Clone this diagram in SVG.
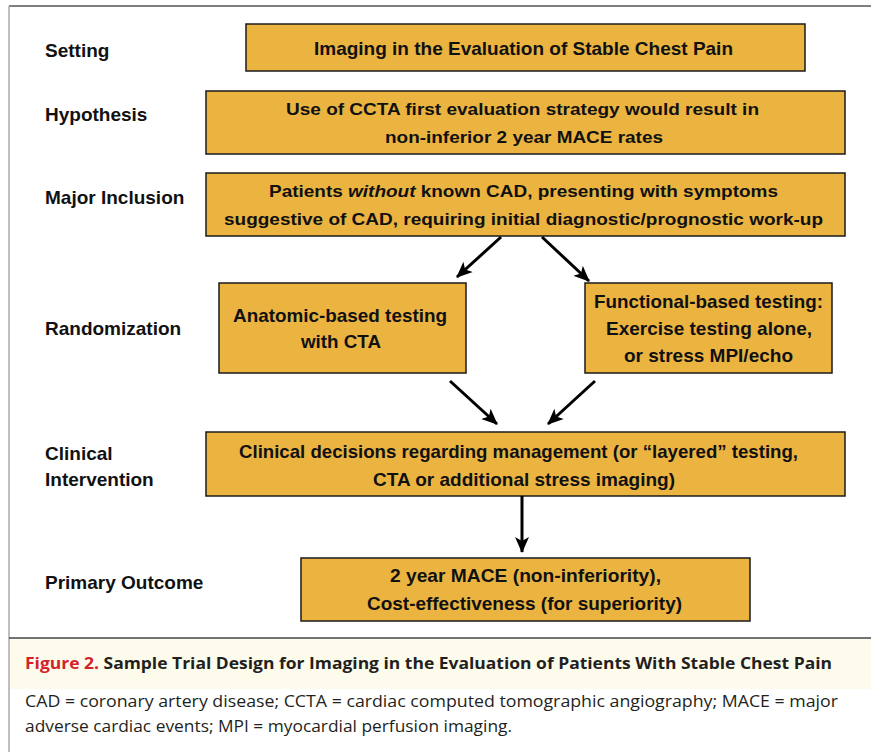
<svg xmlns="http://www.w3.org/2000/svg" width="871" height="752" viewBox="0 0 871 752">
<style>
.box{fill:#ebb441;stroke:#1a1a1a;stroke-width:1.5}
.bt{font-family:"Liberation Sans",Arial,sans-serif;font-weight:bold;font-size:17px;fill:#111;text-anchor:start}
.nt{font-size:18.5px}
.lb{font-family:"Liberation Sans",Arial,sans-serif;font-weight:bold;font-size:19px;fill:#111}
.cap{font-family:"Open Sans","Liberation Sans",sans-serif;font-size:16px;fill:#231f20}
.arr{stroke:#000;stroke-width:3;fill:none;marker-end:url(#ah)}
</style>
<defs>
<marker id="ah" markerUnits="userSpaceOnUse" markerWidth="16" markerHeight="16" refX="15" refY="8" orient="auto">
<path d="M0,1 L16,8 L0,15 L4,8 z" fill="#000"/>
</marker>
</defs>
<rect width="871" height="752" fill="#fff"/>
<rect x="9" y="639" width="862" height="50" fill="#fdfbec"/>
<line x1="9" y1="6" x2="871" y2="6" stroke="#555" stroke-width="1.5"/>
<line x1="9" y1="6" x2="9" y2="752" stroke="#aaa" stroke-width="1.5"/>
<line x1="9" y1="638" x2="871" y2="638" stroke="#444" stroke-width="1.5"/>

<g id="labels">
<text class="lb" x="45" y="57">Setting</text>
<text class="lb" x="45" y="121">Hypothesis</text>
<text class="lb" x="45" y="204">Major Inclusion</text>
<text class="lb" x="45" y="335">Randomization</text>
<text class="lb" x="45" y="460">Clinical</text>
<text class="lb" x="45" y="486">Intervention</text>
<text class="lb" x="45" y="589">Primary Outcome</text>
</g>

<g id="setting">
<rect class="box" x="246" y="24" width="559" height="47"/>
<text class="bt nt" x="314" y="55" textLength="419" lengthAdjust="spacingAndGlyphs">Imaging in the Evaluation of Stable Chest Pain</text>
</g>
<g id="hypothesis">
<rect class="box" x="206" y="91" width="639" height="63"/>
<text class="bt" x="286" y="115" textLength="473" lengthAdjust="spacingAndGlyphs">Use of CCTA first evaluation strategy would result in</text>
<text class="bt" x="385" y="143" textLength="278" lengthAdjust="spacingAndGlyphs">non-inferior 2 year MACE rates</text>
</g>
<g id="inclusion">
<rect class="box" x="206" y="173" width="639" height="63"/>
<text class="bt" x="269" y="197" textLength="509" lengthAdjust="spacingAndGlyphs">Patients <tspan font-style="italic">without</tspan> known CAD, presenting with symptoms</text>
<text class="bt" x="224" y="225" textLength="599" lengthAdjust="spacingAndGlyphs">suggestive of CAD, requiring initial diagnostic/prognostic work-up</text>
</g>
<g id="anatomic">
<rect class="box" x="219" y="283" width="247" height="90"/>
<text class="bt nt" x="233" y="322" textLength="214" lengthAdjust="spacingAndGlyphs">Anatomic-based testing</text>
<text class="bt nt" x="301" y="348" textLength="80" lengthAdjust="spacingAndGlyphs">with CTA</text>
</g>
<g id="functional">
<rect class="box" x="585" y="283" width="247" height="90"/>
<text class="bt nt" x="594" y="308" textLength="229" lengthAdjust="spacingAndGlyphs">Functional-based testing:</text>
<text class="bt nt" x="606" y="335" textLength="206" lengthAdjust="spacingAndGlyphs">Exercise testing alone,</text>
<text class="bt nt" x="624" y="362" textLength="169" lengthAdjust="spacingAndGlyphs">or stress MPI/echo</text>
</g>
<g id="clinical">
<rect class="box" x="206" y="432" width="639" height="64"/>
<text class="bt nt" x="239" y="458" textLength="559" lengthAdjust="spacingAndGlyphs">Clinical decisions regarding management (or “layered” testing,</text>
<text class="bt nt" x="373" y="486" textLength="302" lengthAdjust="spacingAndGlyphs">CTA or additional stress imaging)</text>
</g>
<g id="outcome">
<rect class="box" x="301" y="558" width="449" height="63"/>
<text class="bt nt" x="390" y="582" textLength="271" lengthAdjust="spacingAndGlyphs">2 year MACE (non-inferiority),</text>
<text class="bt nt" x="367" y="610" textLength="315" lengthAdjust="spacingAndGlyphs">Cost-effectiveness (for superiority)</text>
</g>

<g id="connectors">
<line class="arr" x1="501" y1="237" x2="457" y2="277"/>
<line class="arr" x1="542" y1="237" x2="589" y2="281"/>
<line class="arr" x1="450" y1="381" x2="497" y2="424"/>
<line class="arr" x1="595" y1="381" x2="548" y2="424"/>
<line class="arr" x1="522" y1="496" x2="522" y2="552"/>
</g>

<g id="caption">
<text class="cap" x="25" y="669" font-weight="bold" font-size="18px" textLength="807" lengthAdjust="spacingAndGlyphs"><tspan fill="#d2232a">Figure 2.</tspan> Sample Trial Design for Imaging in the Evaluation of Patients With Stable Chest Pain</text>
<text class="cap" x="25" y="707" textLength="813" lengthAdjust="spacingAndGlyphs">CAD = coronary artery disease; CCTA = cardiac computed tomographic angiography; MACE = major</text>
<text class="cap" x="25" y="732" textLength="487" lengthAdjust="spacingAndGlyphs">adverse cardiac events; MPI = myocardial perfusion imaging.</text>
</g>
</svg>
